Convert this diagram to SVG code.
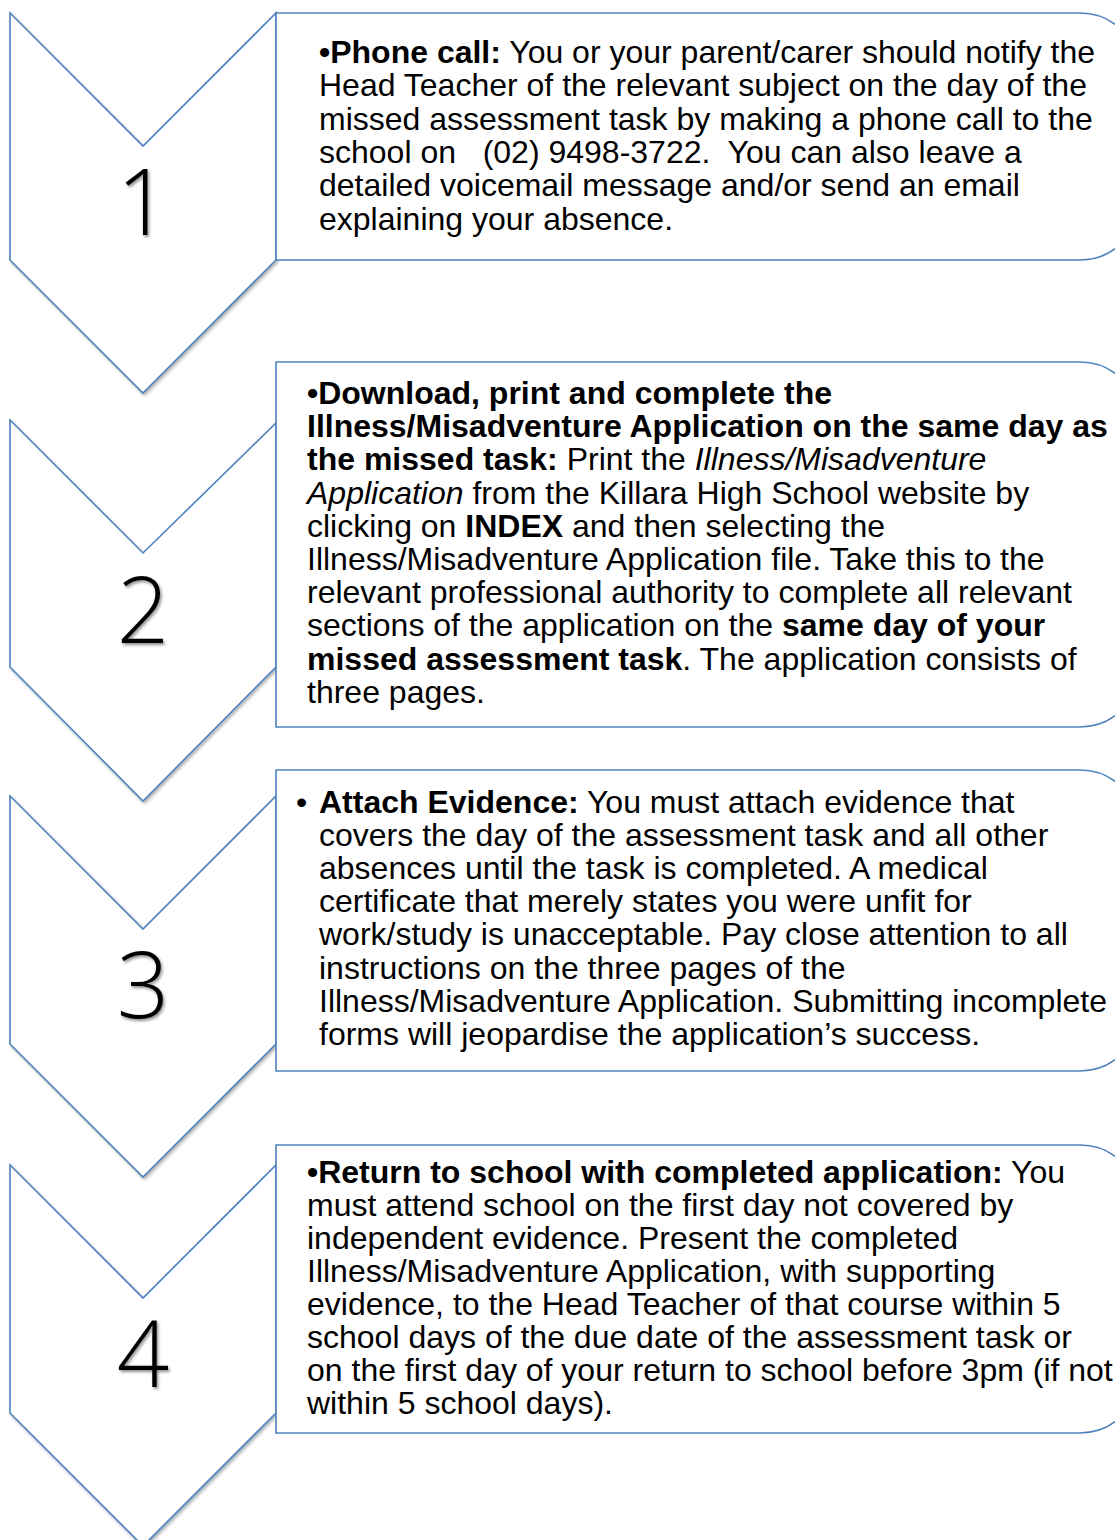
<svg xmlns="http://www.w3.org/2000/svg" width="1115" height="1540" viewBox="0 0 1115 1540">
<defs>
<filter id="sh" x="-10%" y="-10%" width="130%" height="130%">
<feDropShadow dx="1.5" dy="2" stdDeviation="1.5" flood-color="#000" flood-opacity="0.3"/>
</filter>
<filter id="tsh" x="-20%" y="-20%" width="150%" height="150%">
<feDropShadow dx="1.5" dy="2" stdDeviation="1.5" flood-color="#000" flood-opacity="0.45"/>
</filter>
<style>
.chev{fill:#fff;stroke:#4F81BD;stroke-width:1.6;filter:url(#sh);}
.box{fill:#fff;stroke:#4F81BD;stroke-width:1.6;}
.num{font-family:"Open Sans","Liberation Sans",sans-serif;font-weight:300;font-size:92px;fill:#000;text-anchor:middle;filter:url(#tsh);}
.t{font-family:"Liberation Sans",Arial,sans-serif;font-size:32px;fill:#000;white-space:pre;}
.b{font-weight:bold;}
.i{font-style:italic;}
</style>
</defs>
<g id="connectors"></g>
<g id="step1">
<polygon class="chev" points="10,13 143,146 276,13 276,260 143,393 10,260"/>
<text class="num" x="143" y="235">1</text>
</g>
<g id="step2">
<polygon class="chev" points="10,420 143,553 276,423 276,667 143,801 10,667"/>
<text class="num" x="143" y="643">2</text>
</g>
<g id="step3">
<polygon class="chev" points="10,796 143,929 276,796 276,1044 143,1177 10,1044"/>
<text class="num" x="143" y="1018">3</text>
</g>
<g id="step4">
<polygon class="chev" points="10,1165 143,1298 276,1165 276,1413 143,1546 10,1413"/>
<text class="num" x="143" y="1387">4</text>
</g>
<g id="box1">
<path class="box" d="M276,13 H1080 A60,60 0 0 1 1140,73 V200 A60,60 0 0 1 1080,260 H276 Z"/>
<text class="t" x="319" y="63"><tspan class="b">•Phone call:</tspan> You or your parent/carer should notify the</text>
<text class="t" x="319" y="96.3">Head Teacher of the relevant subject on the day of the</text>
<text class="t" x="319" y="129.6">missed assessment task by making a phone call to the</text>
<text class="t" x="319" y="162.9">school on   (02) 9498-3722.  You can also leave a</text>
<text class="t" x="319" y="196.2">detailed voicemail message and/or send an email</text>
<text class="t" x="319" y="229.5">explaining your absence.</text>
</g>
<g id="box2">
<path class="box" d="M276,362 H1080 A60,60 0 0 1 1140,422 V667 A60,60 0 0 1 1080,727 H276 Z"/>
<text class="t" x="307" y="404"><tspan class="b">•Download, print and complete the</tspan></text>
<text class="t" x="307" y="437.2"><tspan class="b">Illness/Misadventure Application on the same day as</tspan></text>
<text class="t" x="307" y="470.4"><tspan class="b">the missed task:</tspan> Print the <tspan class="i">Illness/Misadventure</tspan></text>
<text class="t" x="307" y="503.6"><tspan class="i">Application</tspan> from the Killara High School website by</text>
<text class="t" x="307" y="536.8">clicking on <tspan class="b">INDEX</tspan> and then selecting the</text>
<text class="t" x="307" y="570">Illness/Misadventure Application file. Take this to the</text>
<text class="t" x="307" y="603.2">relevant professional authority to complete all relevant</text>
<text class="t" x="307" y="636.4">sections of the application on the <tspan class="b">same day of your</tspan></text>
<text class="t" x="307" y="669.6"><tspan class="b">missed assessment task</tspan>. The application consists of</text>
<text class="t" x="307" y="702.8">three pages.</text>
</g>
<g id="box3">
<path class="box" d="M276,770 H1080 A60,60 0 0 1 1140,830 V1011 A60,60 0 0 1 1080,1071 H276 Z"/>
<text class="t" x="296" y="813">•</text>
<text class="t" x="319" y="813"><tspan class="b">Attach Evidence:</tspan> You must attach evidence that</text>
<text class="t" x="319" y="846.1">covers the day of the assessment task and all other</text>
<text class="t" x="319" y="879.2">absences until the task is completed. A medical</text>
<text class="t" x="319" y="912.3">certificate that merely states you were unfit for</text>
<text class="t" x="319" y="945.4">work/study is unacceptable. Pay close attention to all</text>
<text class="t" x="319" y="978.5">instructions on the three pages of the</text>
<text class="t" x="319" y="1011.6">Illness/Misadventure Application. Submitting incomplete</text>
<text class="t" x="319" y="1044.7">forms will jeopardise the application’s success.</text>
</g>
<g id="box4">
<path class="box" d="M276,1145 H1080 A60,60 0 0 1 1140,1205 V1373 A60,60 0 0 1 1080,1433 H276 Z"/>
<text class="t" x="307" y="1183"><tspan class="b">•Return to school with completed application:</tspan> You</text>
<text class="t" x="307" y="1216">must attend school on the first day not covered by</text>
<text class="t" x="307" y="1249">independent evidence. Present the completed</text>
<text class="t" x="307" y="1282">Illness/Misadventure Application, with supporting</text>
<text class="t" x="307" y="1315">evidence, to the Head Teacher of that course within 5</text>
<text class="t" x="307" y="1348">school days of the due date of the assessment task or</text>
<text class="t" x="307" y="1381">on the first day of your return to school before 3pm (if not</text>
<text class="t" x="307" y="1414">within 5 school days).</text>
</g>
</svg>
